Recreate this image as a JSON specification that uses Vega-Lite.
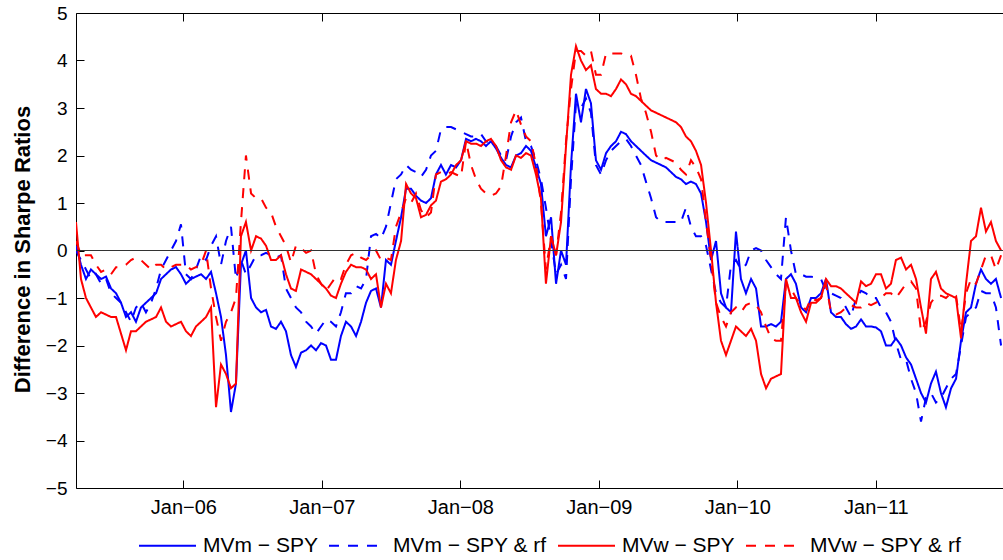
{
"$schema":"https://vega.github.io/schema/vega-lite/v6.json",
"width":927,"height":475,
"autosize":{"type":"none"},
"padding":{"left":76,"top":13,"right":0,"bottom":72},
"background":"white",
"config":{"font":"Liberation Sans","view":{"stroke":null},
 "axis":{"grid":false,"domainColor":"black","tickColor":"black","labelColor":"black","labelFont":"Liberation Sans","labelFontSize":19,"domainWidth":1,"tickWidth":1,"tickSize":-8,"labelPadding":17}},
"layer":[
{"data":{"values":[
{"t":2005.225,"mv_m":0.1,"mv_m_rf":0.0,"mv_w":0.6,"mv_w_rf":0.2},
{"t":2005.261,"mv_m":-0.3,"mv_m_rf":-0.2,"mv_w":-0.6,"mv_w_rf":-0.1},
{"t":2005.297,"mv_m":-0.6,"mv_m_rf":-0.4,"mv_w":-1.0,"mv_w_rf":-0.1},
{"t":2005.333,"mv_m":-0.4,"mv_m_rf":-0.6,"mv_w":-1.2,"mv_w_rf":-0.1},
{"t":2005.369,"mv_m":-0.5,"mv_m_rf":-0.5,"mv_w":-1.4,"mv_w_rf":-0.3},
{"t":2005.406,"mv_m":-0.6,"mv_m_rf":-0.7,"mv_w":-1.3,"mv_w_rf":-0.45},
{"t":2005.442,"mv_m":-0.55,"mv_m_rf":-0.6,"mv_w":-1.35,"mv_w_rf":-0.4},
{"t":2005.478,"mv_m":-0.8,"mv_m_rf":-0.9,"mv_w":-1.4,"mv_w_rf":-0.5},
{"t":2005.514,"mv_m":-0.9,"mv_m_rf":-1.0,"mv_w":-1.4,"mv_w_rf":-0.35},
{"t":2005.550,"mv_m":-1.1,"mv_m_rf":-1.1,"mv_w":-1.75,"mv_w_rf":-0.35},
{"t":2005.586,"mv_m":-1.4,"mv_m_rf":-1.3,"mv_w":-2.1,"mv_w_rf":-0.3},
{"t":2005.622,"mv_m":-1.3,"mv_m_rf":-1.5,"mv_w":-1.7,"mv_w_rf":-0.2},
{"t":2005.658,"mv_m":-1.5,"mv_m_rf":-1.2,"mv_w":-1.7,"mv_w_rf":-0.15},
{"t":2005.694,"mv_m":-1.2,"mv_m_rf":-1.1,"mv_w":-1.6,"mv_w_rf":-0.2},
{"t":2005.730,"mv_m":-1.1,"mv_m_rf":-1.3,"mv_w":-1.5,"mv_w_rf":-0.3},
{"t":2005.767,"mv_m":-1.0,"mv_m_rf":-1.1,"mv_w":-1.45,"mv_w_rf":-0.4},
{"t":2005.803,"mv_m":-0.9,"mv_m_rf":-0.8,"mv_w":-1.4,"mv_w_rf":-0.3},
{"t":2005.839,"mv_m":-0.6,"mv_m_rf":-0.4,"mv_w":-1.2,"mv_w_rf":-0.3},
{"t":2005.875,"mv_m":-0.5,"mv_m_rf":-0.2,"mv_w":-1.5,"mv_w_rf":-0.4},
{"t":2005.911,"mv_m":-0.4,"mv_m_rf":0.0,"mv_w":-1.6,"mv_w_rf":-0.35},
{"t":2005.947,"mv_m":-0.35,"mv_m_rf":0.2,"mv_w":-1.55,"mv_w_rf":-0.3},
{"t":2005.983,"mv_m":-0.5,"mv_m_rf":0.55,"mv_w":-1.5,"mv_w_rf":-0.3},
{"t":2006.019,"mv_m":-0.7,"mv_m_rf":-0.5,"mv_w":-1.7,"mv_w_rf":-0.3},
{"t":2006.055,"mv_m":-0.6,"mv_m_rf":-0.6,"mv_w":-1.8,"mv_w_rf":-0.4},
{"t":2006.091,"mv_m":-0.55,"mv_m_rf":-0.4,"mv_w":-1.6,"mv_w_rf":-0.35},
{"t":2006.128,"mv_m":-0.5,"mv_m_rf":-0.1,"mv_w":-1.5,"mv_w_rf":-0.3},
{"t":2006.164,"mv_m":-0.6,"mv_m_rf":-0.2,"mv_w":-1.4,"mv_w_rf":0.0},
{"t":2006.200,"mv_m":-0.45,"mv_m_rf":0.1,"mv_w":-1.2,"mv_w_rf":-0.8},
{"t":2006.236,"mv_m":-0.9,"mv_m_rf":0.3,"mv_w":-3.3,"mv_w_rf":-1.4},
{"t":2006.272,"mv_m":-1.4,"mv_m_rf":-0.3,"mv_w":-2.4,"mv_w_rf":-1.9},
{"t":2006.308,"mv_m":-2.2,"mv_m_rf":0.2,"mv_w":-2.6,"mv_w_rf":-1.5},
{"t":2006.344,"mv_m":-3.4,"mv_m_rf":0.5,"mv_w":-2.9,"mv_w_rf":-1.3},
{"t":2006.380,"mv_m":-2.8,"mv_m_rf":-0.6,"mv_w":-2.8,"mv_w_rf":-1.0},
{"t":2006.416,"mv_m":-0.3,"mv_m_rf":-0.2,"mv_w":0.3,"mv_w_rf":0.6},
{"t":2006.452,"mv_m":0.0,"mv_m_rf":-0.5,"mv_w":0.6,"mv_w_rf":2.0},
{"t":2006.489,"mv_m":-1.0,"mv_m_rf":-0.3,"mv_w":0.0,"mv_w_rf":1.2},
{"t":2006.525,"mv_m":-1.2,"mv_m_rf":-0.1,"mv_w":0.3,"mv_w_rf":1.1},
{"t":2006.561,"mv_m":-1.3,"mv_m_rf":-0.1,"mv_w":0.25,"mv_w_rf":1.1},
{"t":2006.597,"mv_m":-1.25,"mv_m_rf":-0.05,"mv_w":0.1,"mv_w_rf":0.9},
{"t":2006.633,"mv_m":-1.6,"mv_m_rf":-0.1,"mv_w":-0.2,"mv_w_rf":0.8},
{"t":2006.669,"mv_m":-1.65,"mv_m_rf":-0.15,"mv_w":-0.2,"mv_w_rf":0.5},
{"t":2006.705,"mv_m":-1.5,"mv_m_rf":-0.1,"mv_w":-0.1,"mv_w_rf":0.3},
{"t":2006.741,"mv_m":-1.7,"mv_m_rf":-0.8,"mv_w":-0.5,"mv_w_rf":0.1},
{"t":2006.777,"mv_m":-2.2,"mv_m_rf":-1.0,"mv_w":-0.8,"mv_w_rf":-0.25},
{"t":2006.813,"mv_m":-2.45,"mv_m_rf":-1.2,"mv_w":-0.85,"mv_w_rf":0.1},
{"t":2006.850,"mv_m":-2.15,"mv_m_rf":-1.3,"mv_w":-0.4,"mv_w_rf":0.05},
{"t":2006.886,"mv_m":-2.1,"mv_m_rf":-1.5,"mv_w":-0.45,"mv_w_rf":-0.05},
{"t":2006.922,"mv_m":-2.0,"mv_m_rf":-1.6,"mv_w":-0.5,"mv_w_rf":0.0},
{"t":2006.958,"mv_m":-2.1,"mv_m_rf":-1.75,"mv_w":-0.6,"mv_w_rf":-0.5},
{"t":2006.994,"mv_m":-1.95,"mv_m_rf":-1.6,"mv_w":-0.7,"mv_w_rf":-0.7},
{"t":2007.030,"mv_m":-2.0,"mv_m_rf":-1.45,"mv_w":-0.8,"mv_w_rf":-0.85},
{"t":2007.066,"mv_m":-2.3,"mv_m_rf":-1.5,"mv_w":-0.95,"mv_w_rf":-0.7},
{"t":2007.102,"mv_m":-2.3,"mv_m_rf":-1.6,"mv_w":-1.0,"mv_w_rf":-0.55},
{"t":2007.138,"mv_m":-1.8,"mv_m_rf":-1.3,"mv_w":-0.7,"mv_w_rf":-0.6},
{"t":2007.174,"mv_m":-1.5,"mv_m_rf":-0.9,"mv_w":-0.45,"mv_w_rf":-0.3},
{"t":2007.211,"mv_m":-1.6,"mv_m_rf":-0.9,"mv_w":-0.3,"mv_w_rf":-0.1},
{"t":2007.247,"mv_m":-1.8,"mv_m_rf":-0.75,"mv_w":-0.35,"mv_w_rf":-0.05},
{"t":2007.283,"mv_m":-1.5,"mv_m_rf":-0.8,"mv_w":-0.35,"mv_w_rf":-0.15},
{"t":2007.319,"mv_m":-1.1,"mv_m_rf":-0.6,"mv_w":-0.4,"mv_w_rf":-0.2},
{"t":2007.355,"mv_m":-0.85,"mv_m_rf":0.3,"mv_w":-0.6,"mv_w_rf":-0.1},
{"t":2007.391,"mv_m":-0.8,"mv_m_rf":0.35,"mv_w":-0.5,"mv_w_rf":0.0},
{"t":2007.427,"mv_m":-1.2,"mv_m_rf":0.25,"mv_w":-1.2,"mv_w_rf":-0.2},
{"t":2007.463,"mv_m":-0.2,"mv_m_rf":0.5,"mv_w":-0.7,"mv_w_rf":-0.15},
{"t":2007.499,"mv_m":-0.3,"mv_m_rf":1.0,"mv_w":-0.9,"mv_w_rf":-0.2},
{"t":2007.535,"mv_m":0.2,"mv_m_rf":1.5,"mv_w":-0.2,"mv_w_rf":0.5},
{"t":2007.572,"mv_m":0.7,"mv_m_rf":1.6,"mv_w":0.2,"mv_w_rf":0.8},
{"t":2007.608,"mv_m":1.3,"mv_m_rf":1.8,"mv_w":1.4,"mv_w_rf":1.1},
{"t":2007.644,"mv_m":1.3,"mv_m_rf":1.7,"mv_w":1.2,"mv_w_rf":1.0},
{"t":2007.680,"mv_m":1.15,"mv_m_rf":1.65,"mv_w":1.1,"mv_w_rf":1.2},
{"t":2007.716,"mv_m":1.05,"mv_m_rf":1.55,"mv_w":0.7,"mv_w_rf":0.85},
{"t":2007.752,"mv_m":1.0,"mv_m_rf":1.7,"mv_w":0.75,"mv_w_rf":0.7},
{"t":2007.788,"mv_m":1.1,"mv_m_rf":2.0,"mv_w":0.95,"mv_w_rf":0.8},
{"t":2007.824,"mv_m":1.6,"mv_m_rf":2.1,"mv_w":1.05,"mv_w_rf":1.6},
{"t":2007.860,"mv_m":1.8,"mv_m_rf":2.55,"mv_w":1.45,"mv_w_rf":1.65},
{"t":2007.896,"mv_m":1.6,"mv_m_rf":2.6,"mv_w":1.5,"mv_w_rf":1.6},
{"t":2007.933,"mv_m":1.8,"mv_m_rf":2.6,"mv_w":1.6,"mv_w_rf":1.65},
{"t":2007.969,"mv_m":1.75,"mv_m_rf":2.55,"mv_w":1.8,"mv_w_rf":1.6},
{"t":2008.005,"mv_m":1.9,"mv_m_rf":2.5,"mv_w":1.9,"mv_w_rf":1.55},
{"t":2008.041,"mv_m":2.35,"mv_m_rf":2.45,"mv_w":2.3,"mv_w_rf":2.3},
{"t":2008.077,"mv_m":2.3,"mv_m_rf":2.4,"mv_w":2.25,"mv_w_rf":1.8},
{"t":2008.113,"mv_m":2.35,"mv_m_rf":2.4,"mv_w":2.25,"mv_w_rf":1.5},
{"t":2008.149,"mv_m":2.3,"mv_m_rf":2.45,"mv_w":2.2,"mv_w_rf":1.3},
{"t":2008.185,"mv_m":2.2,"mv_m_rf":2.3,"mv_w":2.3,"mv_w_rf":1.2},
{"t":2008.221,"mv_m":2.3,"mv_m_rf":2.25,"mv_w":2.35,"mv_w_rf":1.15},
{"t":2008.257,"mv_m":2.15,"mv_m_rf":2.2,"mv_w":2.2,"mv_w_rf":1.2},
{"t":2008.294,"mv_m":1.95,"mv_m_rf":2.0,"mv_w":1.9,"mv_w_rf":1.35},
{"t":2008.330,"mv_m":1.8,"mv_m_rf":1.9,"mv_w":1.75,"mv_w_rf":2.0},
{"t":2008.366,"mv_m":1.75,"mv_m_rf":2.4,"mv_w":1.7,"mv_w_rf":2.7},
{"t":2008.402,"mv_m":2.0,"mv_m_rf":2.7,"mv_w":2.0,"mv_w_rf":2.95},
{"t":2008.438,"mv_m":2.05,"mv_m_rf":2.8,"mv_w":1.95,"mv_w_rf":2.65},
{"t":2008.474,"mv_m":2.2,"mv_m_rf":2.3,"mv_w":2.05,"mv_w_rf":2.4},
{"t":2008.510,"mv_m":2.1,"mv_m_rf":2.2,"mv_w":2.0,"mv_w_rf":2.3},
{"t":2008.546,"mv_m":1.75,"mv_m_rf":1.9,"mv_w":1.6,"mv_w_rf":1.8},
{"t":2008.582,"mv_m":1.4,"mv_m_rf":1.5,"mv_w":1.1,"mv_w_rf":1.0},
{"t":2008.618,"mv_m":0.3,"mv_m_rf":0.9,"mv_w":-0.7,"mv_w_rf":-0.4},
{"t":2008.655,"mv_m":0.7,"mv_m_rf":0.2,"mv_w":0.3,"mv_w_rf":0.3},
{"t":2008.691,"mv_m":-0.7,"mv_m_rf":-0.5,"mv_w":-0.1,"mv_w_rf":-0.1},
{"t":2008.727,"mv_m":0.0,"mv_m_rf":-0.3,"mv_w":0.6,"mv_w_rf":0.8},
{"t":2008.763,"mv_m":-0.3,"mv_m_rf":-0.6,"mv_w":2.2,"mv_w_rf":2.3},
{"t":2008.799,"mv_m":1.8,"mv_m_rf":1.5,"mv_w":3.7,"mv_w_rf":3.4},
{"t":2008.835,"mv_m":3.3,"mv_m_rf":3.1,"mv_w":4.3,"mv_w_rf":4.2},
{"t":2008.871,"mv_m":2.7,"mv_m_rf":3.0,"mv_w":4.0,"mv_w_rf":4.2},
{"t":2008.907,"mv_m":3.4,"mv_m_rf":3.2,"mv_w":3.8,"mv_w_rf":4.1},
{"t":2008.943,"mv_m":3.1,"mv_m_rf":2.9,"mv_w":3.9,"mv_w_rf":4.2},
{"t":2008.979,"mv_m":1.9,"mv_m_rf":1.8,"mv_w":3.4,"mv_w_rf":3.7},
{"t":2009.016,"mv_m":1.7,"mv_m_rf":1.6,"mv_w":3.3,"mv_w_rf":3.7},
{"t":2009.052,"mv_m":2.05,"mv_m_rf":1.9,"mv_w":3.3,"mv_w_rf":4.15},
{"t":2009.088,"mv_m":2.2,"mv_m_rf":2.1,"mv_w":3.25,"mv_w_rf":4.15},
{"t":2009.124,"mv_m":2.3,"mv_m_rf":2.2,"mv_w":3.4,"mv_w_rf":4.15},
{"t":2009.160,"mv_m":2.5,"mv_m_rf":2.3,"mv_w":3.6,"mv_w_rf":4.15},
{"t":2009.196,"mv_m":2.45,"mv_m_rf":2.35,"mv_w":3.5,"mv_w_rf":4.1},
{"t":2009.232,"mv_m":2.3,"mv_m_rf":2.2,"mv_w":3.3,"mv_w_rf":4.1},
{"t":2009.268,"mv_m":2.2,"mv_m_rf":2.0,"mv_w":3.25,"mv_w_rf":3.7},
{"t":2009.304,"mv_m":2.1,"mv_m_rf":1.8,"mv_w":3.15,"mv_w_rf":3.2},
{"t":2009.340,"mv_m":2.0,"mv_m_rf":1.45,"mv_w":3.05,"mv_w_rf":2.9},
{"t":2009.377,"mv_m":1.9,"mv_m_rf":1.1,"mv_w":2.95,"mv_w_rf":2.5},
{"t":2009.413,"mv_m":1.85,"mv_m_rf":0.7,"mv_w":2.9,"mv_w_rf":2.0},
{"t":2009.449,"mv_m":1.8,"mv_m_rf":0.6,"mv_w":2.85,"mv_w_rf":1.9},
{"t":2009.485,"mv_m":1.75,"mv_m_rf":0.6,"mv_w":2.8,"mv_w_rf":1.95},
{"t":2009.521,"mv_m":1.65,"mv_m_rf":0.6,"mv_w":2.75,"mv_w_rf":1.9},
{"t":2009.557,"mv_m":1.55,"mv_m_rf":0.6,"mv_w":2.7,"mv_w_rf":1.85},
{"t":2009.593,"mv_m":1.5,"mv_m_rf":0.6,"mv_w":2.6,"mv_w_rf":1.7},
{"t":2009.629,"mv_m":1.4,"mv_m_rf":0.9,"mv_w":2.4,"mv_w_rf":1.6},
{"t":2009.665,"mv_m":1.45,"mv_m_rf":0.5,"mv_w":2.3,"mv_w_rf":1.9},
{"t":2009.701,"mv_m":1.4,"mv_m_rf":0.3,"mv_w":2.1,"mv_w_rf":1.75},
{"t":2009.738,"mv_m":1.2,"mv_m_rf":0.3,"mv_w":1.8,"mv_w_rf":1.5},
{"t":2009.774,"mv_m":0.6,"mv_m_rf":0.1,"mv_w":1.0,"mv_w_rf":0.6},
{"t":2009.810,"mv_m":-0.2,"mv_m_rf":-0.4,"mv_w":0.0,"mv_w_rf":-0.2},
{"t":2009.846,"mv_m":0.2,"mv_m_rf":-0.9,"mv_w":-1.1,"mv_w_rf":-1.1},
{"t":2009.882,"mv_m":-0.9,"mv_m_rf":-1.1,"mv_w":-1.9,"mv_w_rf":-1.4},
{"t":2009.918,"mv_m":-1.2,"mv_m_rf":-1.2,"mv_w":-2.2,"mv_w_rf":-1.6},
{"t":2009.954,"mv_m":-1.3,"mv_m_rf":-0.3,"mv_w":-1.9,"mv_w_rf":-1.3},
{"t":2009.990,"mv_m":0.4,"mv_m_rf":-0.2,"mv_w":-1.6,"mv_w_rf":-1.2},
{"t":2010.026,"mv_m":-0.6,"mv_m_rf":-0.4,"mv_w":-1.7,"mv_w_rf":-1.3},
{"t":2010.062,"mv_m":-0.9,"mv_m_rf":-0.3,"mv_w":-1.8,"mv_w_rf":-1.15},
{"t":2010.099,"mv_m":-0.6,"mv_m_rf":0.0,"mv_w":-1.65,"mv_w_rf":-1.1},
{"t":2010.135,"mv_m":-0.8,"mv_m_rf":0.05,"mv_w":-1.9,"mv_w_rf":-1.15},
{"t":2010.171,"mv_m":-1.6,"mv_m_rf":0.0,"mv_w":-2.6,"mv_w_rf":-1.3},
{"t":2010.207,"mv_m":-1.6,"mv_m_rf":-0.2,"mv_w":-2.9,"mv_w_rf":-1.6},
{"t":2010.243,"mv_m":-1.55,"mv_m_rf":-0.35,"mv_w":-2.7,"mv_w_rf":-1.85},
{"t":2010.279,"mv_m":-1.6,"mv_m_rf":-0.5,"mv_w":-2.65,"mv_w_rf":-1.9},
{"t":2010.315,"mv_m":-1.5,"mv_m_rf":-0.6,"mv_w":-2.6,"mv_w_rf":-1.9},
{"t":2010.351,"mv_m":-0.6,"mv_m_rf":0.7,"mv_w":-0.6,"mv_w_rf":-0.7},
{"t":2010.387,"mv_m":-0.5,"mv_m_rf":0.0,"mv_w":-1.0,"mv_w_rf":-0.8},
{"t":2010.423,"mv_m":-0.7,"mv_m_rf":-0.5,"mv_w":-1.0,"mv_w_rf":-1.0},
{"t":2010.460,"mv_m":-1.2,"mv_m_rf":-0.5,"mv_w":-1.3,"mv_w_rf":-1.15},
{"t":2010.496,"mv_m":-1.3,"mv_m_rf":-0.55,"mv_w":-1.5,"mv_w_rf":-1.25},
{"t":2010.532,"mv_m":-1.0,"mv_m_rf":-0.55,"mv_w":-1.1,"mv_w_rf":-1.0},
{"t":2010.568,"mv_m":-1.0,"mv_m_rf":-0.57,"mv_w":-1.1,"mv_w_rf":-1.05},
{"t":2010.604,"mv_m":-0.9,"mv_m_rf":-0.6,"mv_w":-1.0,"mv_w_rf":-1.0},
{"t":2010.640,"mv_m":-0.6,"mv_m_rf":-0.85,"mv_w":-0.6,"mv_w_rf":-0.7},
{"t":2010.676,"mv_m":-1.3,"mv_m_rf":-0.9,"mv_w":-0.75,"mv_w_rf":-1.3},
{"t":2010.712,"mv_m":-1.4,"mv_m_rf":-0.95,"mv_w":-0.75,"mv_w_rf":-1.35},
{"t":2010.748,"mv_m":-1.4,"mv_m_rf":-1.0,"mv_w":-0.8,"mv_w_rf":-1.3},
{"t":2010.784,"mv_m":-1.55,"mv_m_rf":-1.2,"mv_w":-0.9,"mv_w_rf":-1.2},
{"t":2010.821,"mv_m":-1.65,"mv_m_rf":-1.4,"mv_w":-1.0,"mv_w_rf":-1.15},
{"t":2010.857,"mv_m":-1.6,"mv_m_rf":-1.0,"mv_w":-1.1,"mv_w_rf":-1.2},
{"t":2010.893,"mv_m":-1.45,"mv_m_rf":-0.85,"mv_w":-0.65,"mv_w_rf":-1.2},
{"t":2010.929,"mv_m":-1.6,"mv_m_rf":-0.9,"mv_w":-0.75,"mv_w_rf":-1.1},
{"t":2010.965,"mv_m":-1.6,"mv_m_rf":-1.0,"mv_w":-0.7,"mv_w_rf":-1.15},
{"t":2011.001,"mv_m":-1.62,"mv_m_rf":-1.0,"mv_w":-0.5,"mv_w_rf":-1.1},
{"t":2011.037,"mv_m":-1.7,"mv_m_rf":-1.2,"mv_w":-0.5,"mv_w_rf":-1.0},
{"t":2011.073,"mv_m":-2.0,"mv_m_rf":-1.3,"mv_w":-0.8,"mv_w_rf":-0.9},
{"t":2011.109,"mv_m":-2.0,"mv_m_rf":-1.5,"mv_w":-0.7,"mv_w_rf":-0.9},
{"t":2011.145,"mv_m":-1.85,"mv_m_rf":-1.95,"mv_w":-0.2,"mv_w_rf":-1.0},
{"t":2011.182,"mv_m":-2.0,"mv_m_rf":-2.3,"mv_w":-0.15,"mv_w_rf":-0.85},
{"t":2011.218,"mv_m":-2.25,"mv_m_rf":-2.3,"mv_w":-0.4,"mv_w_rf":-0.7},
{"t":2011.254,"mv_m":-2.4,"mv_m_rf":-2.7,"mv_w":-0.3,"mv_w_rf":-0.65},
{"t":2011.290,"mv_m":-2.7,"mv_m_rf":-3.0,"mv_w":-0.6,"mv_w_rf":-0.8},
{"t":2011.326,"mv_m":-3.0,"mv_m_rf":-3.6,"mv_w":-1.2,"mv_w_rf":-1.7},
{"t":2011.362,"mv_m":-3.2,"mv_m_rf":-3.1,"mv_w":-1.75,"mv_w_rf":-1.5},
{"t":2011.398,"mv_m":-2.8,"mv_m_rf":-3.0,"mv_w":-0.6,"mv_w_rf":-1.1},
{"t":2011.434,"mv_m":-2.55,"mv_m_rf":-3.2,"mv_w":-0.45,"mv_w_rf":-0.95},
{"t":2011.470,"mv_m":-3.0,"mv_m_rf":-3.1,"mv_w":-0.8,"mv_w_rf":-0.95},
{"t":2011.506,"mv_m":-3.3,"mv_m_rf":-2.9,"mv_w":-0.9,"mv_w_rf":-1.0},
{"t":2011.543,"mv_m":-2.9,"mv_m_rf":-2.7,"mv_w":-0.95,"mv_w_rf":-0.9},
{"t":2011.579,"mv_m":-2.7,"mv_m_rf":-2.6,"mv_w":-1.0,"mv_w_rf":-0.95},
{"t":2011.615,"mv_m":-1.9,"mv_m_rf":-2.0,"mv_w":-1.85,"mv_w_rf":-1.7},
{"t":2011.651,"mv_m":-1.3,"mv_m_rf":-1.4,"mv_w":-0.7,"mv_w_rf":-0.9},
{"t":2011.687,"mv_m":-1.2,"mv_m_rf":-1.3,"mv_w":0.2,"mv_w_rf":-0.6},
{"t":2011.723,"mv_m":-0.7,"mv_m_rf":-1.2,"mv_w":0.3,"mv_w_rf":-0.7},
{"t":2011.759,"mv_m":-0.4,"mv_m_rf":-0.85,"mv_w":0.9,"mv_w_rf":-0.4},
{"t":2011.795,"mv_m":-0.6,"mv_m_rf":-0.9,"mv_w":0.4,"mv_w_rf":-0.1},
{"t":2011.831,"mv_m":-0.7,"mv_m_rf":-0.9,"mv_w":0.6,"mv_w_rf":-0.1},
{"t":2011.867,"mv_m":-0.6,"mv_m_rf":-1.2,"mv_w":0.2,"mv_w_rf":-0.4},
{"t":2011.904,"mv_m":-1.0,"mv_m_rf":-2.0,"mv_w":0.0,"mv_w_rf":-0.1}
]},
"transform":[{"fold":["mv_m","mv_m_rf","mv_w","mv_w_rf"],"as":["series","value"]}],
"mark":{"type":"line","strokeWidth":2,"clip":true},
"encoding":{
 "x":{"field":"t","type":"quantitative","scale":{"domain":[2005.225,2011.918],"nice":false,"zero":false},
  "axis":{"orient":"bottom","title":null,"values":[2006,2007,2008,2009,2010,2011],"labelExpr":"'Jan−' + substring(toString(datum.value), 2, 4)","labelFontSize":20}},
 "y":{"field":"value","type":"quantitative","scale":{"domain":[-5,5],"nice":false,"zero":false},
  "axis":{"orient":"left","title":"Difference in Sharpe Ratios","values":[-5,-4,-3,-2,-1,0,1,2,3,4,5],"format":"d","titleFontSize":22,"titleFontWeight":"bold","titleColor":"black","titleFont":"Liberation Sans","titleAngle":270,"titleX":-47,"titleY":236,"titleAlign":"center","titleBaseline":"alphabetic"}},
 "color":{"field":"series","type":"nominal","scale":{"domain":["mv_m","mv_m_rf","mv_w","mv_w_rf"],"range":["#0000ff","#0000ff","#ff0000","#ff0000"]},
  "legend":{"orient":"none","legendX":62,"legendY":503,"direction":"horizontal","title":null,"padding":0,"symbolType":"stroke","symbolSize":3249,"symbolStrokeWidth":2,"labelFontSize":21,"labelColor":"black","labelOffset":6,"columnPadding":7,
   "labelExpr":"datum.label == 'mv_m' ? 'MVm − SPY' : datum.label == 'mv_m_rf' ? 'MVm − SPY & rf' : datum.label == 'mv_w' ? 'MVw − SPY' : 'MVw − SPY & rf'"}},
 "strokeDash":{"field":"series","type":"nominal","scale":{"domain":["mv_m","mv_m_rf","mv_w","mv_w_rf"],"range":[[1,0],[10,9],[1,0],[10,9]]},
  "legend":{"orient":"none","legendX":62,"legendY":503,"direction":"horizontal","title":null,"padding":0,"symbolType":"stroke","symbolSize":3249,"symbolStrokeWidth":2,"labelFontSize":21,"labelColor":"black","labelOffset":6,"columnPadding":7,
   "labelExpr":"datum.label == 'mv_m' ? 'MVm − SPY' : datum.label == 'mv_m_rf' ? 'MVm − SPY & rf' : datum.label == 'mv_w' ? 'MVw − SPY' : 'MVw − SPY & rf'"}}
}},
{"data":{"values":[{"level":0}]},
 "mark":{"type":"rule","color":"#333333","strokeWidth":1},
 "encoding":{
  "x":{"datum":2005.225,"type":"quantitative","axis":{"orient":"top","title":null,"labels":false,"values":[2006,2007,2008,2009,2010,2011]}},
  "x2":{"datum":2011.918},
  "y":{"field":"level","type":"quantitative","axis":{"orient":"left","title":"Difference in Sharpe Ratios","values":[-5,-4,-3,-2,-1,0,1,2,3,4,5],"format":"d","titleFontSize":22,"titleFontWeight":"bold","titleColor":"black","titleFont":"Liberation Sans","titleAngle":270,"titleX":-47,"titleY":236,"titleAlign":"center","titleBaseline":"alphabetic"}}
 }}
]
}
